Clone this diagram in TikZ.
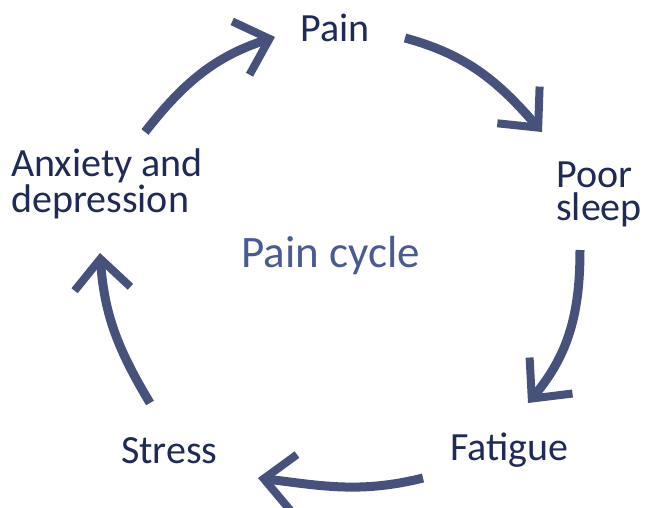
\documentclass[tikz,border=0pt]{standalone}
\usepackage{fontspec}
\setmainfont{Carlito}
\usetikzlibrary{arrows.meta}
\definecolor{arrowc}{HTML}{46527C}
\definecolor{textc}{HTML}{1F2A56}
\definecolor{cyclec}{HTML}{4A5B94}
\tikzset{
  lbl/.style={text=textc, inner sep=0pt, align=left, font=\fontsize{40}{33}\selectfont},
  cyc/.style={arrowc, line width=9pt,
    -{Straight Barb[length=30pt,width=56pt,line width=8pt]}},
}
\begin{document}
\begin{tikzpicture}[x=1pt,y=1pt]
\useasboundingbox (0,0) rectangle (645,507);
\clip (0,0) rectangle (645,507);
\fill[white] (0,0) rectangle (645,507);
% labels
\node[lbl, anchor=base west] (pain) at (300,465) {Pain};
\node[lbl, anchor=base west] (poor) at (556,287) {Poor\\sleep};
\node[lbl, anchor=base west] (anx) at (11,295) {Anxiety and\\depression};
\node[lbl, anchor=base west, text=cyclec, font=\fontsize{45}{46}\selectfont] (cycle) at (241,240) {Pain cycle};
\node[lbl, anchor=base west] (fat) at (450,47) {Fatigue};
\node[lbl, anchor=base west] (stress) at (121,44) {Stress};
% arrow end points
\coordinate (a1s) at (145,375); \coordinate (a1e) at (275,470);
\coordinate (a2s) at (405,469); \coordinate (a2e) at (542,375);
\coordinate (a3s) at (580,257); \coordinate (a3e) at (528,104);
\coordinate (a4s) at (423,29);  \coordinate (a4e) at (258,29);
\coordinate (a5s) at (150,104); \coordinate (a5e) at (100,254);
% arrows
\draw[cyc] (a1s) to[out=52,in=198] (a1e);
\draw[cyc] (a2s) to[out=-15,in=131] (a2e);
\draw[cyc] (a3s) to[out=-90,in=50] (a3e);
\draw[cyc] (a4s) to[out=194,in=-7] (a4e);
\draw[cyc] (a5s) to[out=121,in=-86] (a5e);
\end{tikzpicture}
\end{document}
